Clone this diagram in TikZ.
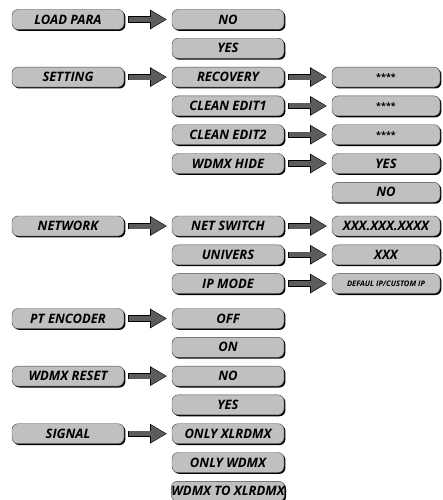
\documentclass[tikz,border=0pt]{standalone}
\usepackage{fontspec}
\setmainfont{Open Sans}
\usetikzlibrary{arrows.meta,shadows}
\definecolor{cajagris}{HTML}{C0C0C0}
\definecolor{flechagris}{HTML}{5C5C5C}
\tikzset{
  caja/.style={rounded corners=6pt, fill=cajagris, draw=gray!55!black, line width=0.4pt,
    minimum width=112pt, minimum height=20pt, inner sep=0pt,
    font=\fontsize{13}{13}\selectfont\bfseries\itshape,
    drop shadow={shadow xshift=1.4pt, shadow yshift=-1.4pt, fill=black, opacity=1}},
  cajita/.style={caja, minimum width=108pt},
  flecha/.style={line width=5pt, draw=flechagris, -{Triangle[length=15pt,width=16pt]},
    shorten <=4.5pt, shorten >=5.8pt,
    preaction={draw=black, line width=6.4pt, -{Triangle[length=17pt,width=18.5pt]},
      shorten <=4pt, shorten >=4.8pt}}
}
\begin{document}
\begin{tikzpicture}[x=1pt, y=-1pt]
  \useasboundingbox (0,0) rectangle (442,500);
  % primera columna
  \node[caja] (loadpara) at (68,19.5) {LOAD PARA};
  \node[caja] (setting)  at (68,77.1) {SETTING};
  \node[caja] (network)  at (68,226) {NETWORK};
  \node[caja] (ptenc)    at (68,318.5) {PT ENCODER};
  \node[caja] (wreset)   at (68,376.1) {WDMX RESET};
  \node[caja] (signal)   at (68,433.7) {SIGNAL};
  % segunda columna
  \node[caja] (lpno)      at (228,19.5) {NO};
  \node[caja] (lpyes)     at (228,48.3) {YES};
  \node[caja] (recovery)  at (228,77.1) {RECOVERY};
  \node[caja] (cedit1)    at (228,105.9) {CLEAN EDIT1};
  \node[caja] (cedit2)    at (228,134.7) {CLEAN EDIT2};
  \node[caja] (wdmxhide)  at (228,163.5) {WDMX HIDE};
  \node[caja] (netswitch) at (228,226) {NET SWITCH};
  \node[caja] (univers)   at (228,254.8) {UNIVERS};
  \node[caja] (ipmode)    at (228,283.6) {IP MODE};
  \node[caja] (ptoff)     at (228,318.5) {OFF};
  \node[caja] (pton)      at (228,347.3) {ON};
  \node[caja] (wrno)      at (228,376.1) {NO};
  \node[caja] (wryes)     at (228,404.9) {YES};
  \node[caja] (onlyxlr)   at (228,433.7) {ONLY XLRDMX};
  \node[caja] (onlywdmx)  at (228,462.5) {ONLY WDMX};
  \node[caja] (wtox)      at (228,491.3) {WDMX TO XLRDMX};
  % tercera columna
  \node[cajita, font=\fontsize{9}{9}\selectfont\bfseries] (recval) at (386,77.1) {****};
  \node[cajita, font=\fontsize{9}{9}\selectfont\bfseries] (ce1val) at (386,105.9) {****};
  \node[cajita, font=\fontsize{9}{9}\selectfont\bfseries] (ce2val) at (386,134.7) {****};
  \node[cajita] (hideyes) at (386,163.5) {YES};
  \node[cajita] (hideno)  at (386,192.3) {NO};
  \node[cajita] (netval)  at (386,226) {XXX.XXX.XXXX};
  \node[cajita] (unival)  at (386,254.8) {XXX};
  \node[cajita, font=\fontsize{7.6}{7.6}\selectfont\bfseries\itshape] (ipval) at (386,283.6) {DEFAUL IP/CUSTOM IP};
  % flechas
  \foreach \a/\b in {loadpara/lpno, setting/recovery, network/netswitch, ptenc/ptoff,
    wreset/wrno, signal/onlyxlr, recovery/recval, cedit1/ce1val, cedit2/ce2val,
    wdmxhide/hideyes, netswitch/netval, univers/unival, ipmode/ipval}
    \draw[flecha] (\a.east) -- (\b.west);
\end{tikzpicture}
\end{document}
